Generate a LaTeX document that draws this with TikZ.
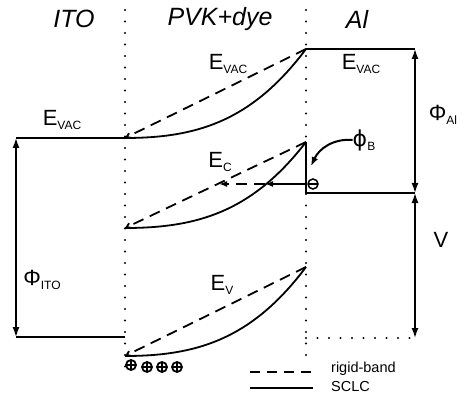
\documentclass[tikz,border=0pt]{standalone}
\usepackage{fontspec}
\setmainfont{Liberation Sans}
\newfontfamily\greekfont{DejaVu Sans}
\usetikzlibrary{arrows.meta}
\newcommand{\lsub}[1]{\raisebox{-4pt}{\fontsize{12}{12}\selectfont #1}}

\begin{document}
\begin{tikzpicture}[
        x=1pt, y=-1pt,
        level/.style  = {line width=2pt},
        band/.style   = {line width=1.8pt},
        rigid/.style  = {line width=1.8pt, dash pattern=on 11pt off 7pt},
        iface/.style  = {line width=2.4pt, dash pattern=on 0pt off 11.5pt, line cap=round},
        gap/.style    = {line width=1.4pt, {Latex[length=10pt,width=7pt]}-{Latex[length=10pt,width=7pt]}},
        tip/.style    = {-{Straight Barb[length=4pt,width=5pt]}},
        region/.style = {font=\fontsize{25}{28}\selectfont\itshape, inner sep=0pt},
        lab/.style    = {font=\fontsize{22}{24}\selectfont, inner sep=0pt},
        key/.style    = {font=\fontsize{14.5}{16}\selectfont, inner sep=0pt, anchor=west},
        hole/.style   = {circle, draw, line width=1.8pt, minimum size=10pt, inner sep=0pt,
                         path picture={\draw[line width=1.3pt]
                             (path picture bounding box.north) -- (path picture bounding box.south)
                             (path picture bounding box.west) -- (path picture bounding box.east);}},
        elec/.style   = {circle, draw, line width=1.5pt, minimum size=10pt, inner sep=0pt,
                         path picture={\draw[line width=1.3pt]
                             (path picture bounding box.west) -- (path picture bounding box.east);}}
    ]
    \useasboundingbox (0,0) rectangle (464,396);

    % interfaces
    \coordinate (ifL-top) at (125,10);
    \coordinate (ifL-bot) at (125,375);
    \coordinate (ifR-top) at (306,10);
    \coordinate (ifR-bot) at (306,357);
    \draw[iface] (ifL-top) -- (ifL-bot);
    \draw[iface] (ifR-top) -- (ifR-bot);

    \node[region] (ito) at (74,19)  {ITO};
    \node[region] (pvk) at (220,19) {PVK+dye};
    \node[region] (al)  at (357,19) {Al};

    % ITO levels
    \coordinate (ito-vac) at (16,138);
    \coordinate (ito-f)   at (16,337);
    \coordinate (vac-l)   at (125,138);
    \coordinate (ito-f-r) at (125,337);
    \draw[level] (ito-vac) -- (vac-l);
    \draw[level] (ito-f) -- (ito-f-r);
    \draw[gap] (ito-vac) -- (ito-f);

    % Al levels
    \coordinate (vac-r)   at (306,49);
    \coordinate (al-vac)  at (415,49);
    \coordinate (al-f-l)  at (306,193);
    \coordinate (al-f)    at (415,193);
    \coordinate (al-v)    at (415,338);
    \coordinate (al-v-l)  at (306,338);
    \coordinate (c-r)     at (306,142);
    \draw[level] (vac-r) -- (al-vac);
    \draw[level] (c-r) -- (al-f-l) -- (al-f);
    \draw[gap] (al-vac) -- (al-f);
    \draw[gap] (al-f) -- (al-v);
    \draw[iface] (al-v-l) -- (al-v);

    % bands in the polymer
    \coordinate (c-l) at (125,228);
    \coordinate (v-l) at (125,356);
    \coordinate (v-r) at (306,267);
    \draw[band] (vac-l) .. controls (197,138) and (252,121) .. (vac-r);
    \draw[band] (c-l)   .. controls (197,228) and (252,212) .. (c-r);
    \draw[band] (v-l)   .. controls (197,356) and (252,339) .. (v-r);
    \draw[rigid, tip] (vac-r) -- (vac-l);
    \draw[rigid, tip] (c-r) -- (c-l);
    \draw[rigid, tip] (v-r) -- (v-l);

    % injection
    \node[elec] (e) at (313,184) {};
    \coordinate (hit-sclc)  at (265,184);
    \coordinate (hit-rigid) at (219,184);
    \draw[line width=1.6pt, -{Latex[length=8pt,width=6pt]}] (e) -- (hit-sclc);
    \draw[rigid, -{Latex[length=8pt,width=6pt]}] (hit-sclc) -- (hit-rigid);

    \node[hole] (h1) at (131,365) {};
    \node[hole] (h2) at (147,367) {};
    \node[hole] (h3) at (162,367) {};
    \node[hole] (h4) at (177,367) {};

    % labels
    \node[lab] (evac-ito) at (62,120)  {E\lsub{VAC}};
    \node[lab] (evac-pvk) at (228,64)  {E\lsub{VAC}};
    \node[lab] (evac-al)  at (361,64)  {E\lsub{VAC}};
    \node[lab] (ec)       at (220,162) {E\lsub{C}};
    \node[lab] (ev)       at (222,285) {E\lsub{V}};
    \node[lab] (phi-ito)  at (42,280)  {Φ\lsub{ITO}};
    \node[lab] (phi-al)   at (443,115) {Φ\lsub{Al}};
    \node[lab] (volt)     at (441,240) {V};
    \node[lab] (phib)     at (364,140) {{\greekfont ϕ}\lsub{B}};
    \coordinate (phib-tip) at (311,166);
    \draw[line width=2pt, -{Latex[length=9pt,width=7pt]}] (phib.west) to[out=175, in=65] (phib-tip);

    % legend
    \coordinate (key-a) at (250,372);
    \coordinate (key-b) at (313,372);
    \coordinate (key-c) at (250,388);
    \coordinate (key-d) at (313,388);
    \draw[line width=1.8pt, dash pattern=on 10pt off 7pt] (key-a) -- (key-b);
    \draw[band] (key-c) -- (key-d);
    \node[key] (key-rigid) at (331,369) {rigid-band};
    \node[key] (key-sclc)  at (331,387) {SCLC};
\end{tikzpicture}
\end{document}
